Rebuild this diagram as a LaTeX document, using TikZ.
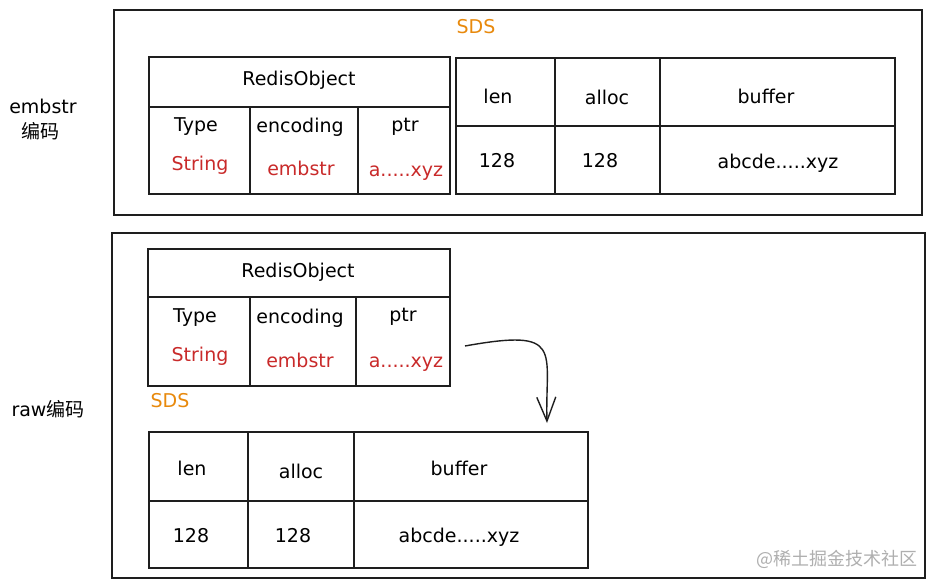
\documentclass[tikz,border=0pt]{standalone}
\usepackage{fontspec}
\setmainfont{DejaVu Sans}
\newfontfamily\cjk{Noto Sans CJK SC}
\usetikzlibrary{arrows.meta}
\definecolor{redtxt}{RGB}{201,42,42}
\definecolor{orangetxt}{RGB}{232,137,12}
\definecolor{linec}{RGB}{30,30,30}
\definecolor{wmark}{RGB}{175,175,175}
\begin{document}
\begin{tikzpicture}[x=1pt,y=-1pt,
  frame/.style={draw=linec, line width=1.4pt},
  tbl/.style={draw=linec, line width=1.6pt},
  lbl/.style={font=\fontsize{19}{22}\selectfont, text=black, inner sep=0},
  val/.style={lbl, text=redtxt},
  sdslbl/.style={lbl, text=orangetxt},
  side/.style={font=\fontsize{19}{22}\selectfont, inner sep=0},
  cjklbl/.style={font=\cjk\fontsize{19}{22}\selectfont, inner sep=0},
  ptrarrow/.style={draw=linec, line width=1.4pt, -{Straight Barb[length=24pt,width=19pt,line width=1.4pt]}}
]
\useasboundingbox (0,0) rectangle (935,588);
\fill[white] (0,0) rectangle (935,588);

% ---------- top (embstr) ----------
\draw[frame] (114,10) rectangle (922,215);
\node[sdslbl] (sds1) at (476,27) {SDS};

\draw[tbl] (149,57) rectangle (450,194);
\draw[tbl] (149,107) -- (450,107);
\draw[tbl] (250,107) -- (250,194);
\draw[tbl] (358,107) -- (358,194);

\node[lbl] (ro1) at (299,80) {RedisObject};
\node[lbl] (type1) at (196,127) {Type};
\node[lbl] (enc1) at (300,127) {encoding};
\node[lbl] (ptr1) at (405,127) {ptr};
\node[val] (str1) at (200,165) {String};
\node[val] (emb1) at (301,168) {embstr};
\node[val] (pv1) at (406,173) {a.....xyz};

\draw[tbl] (456,58) rectangle (895,194);
\draw[tbl] (456,126) -- (895,126);
\draw[tbl] (555,58) -- (555,194);
\draw[tbl] (660,58) -- (660,194);

\node[lbl] (len1) at (498,96) {len};
\node[lbl] (alloc1) at (607,97) {alloc};
\node[lbl] (buf1) at (766,96) {buffer};
\node[lbl] (lenv1) at (497,161) {128};
\node[lbl] (allocv1) at (600,161) {128};
\node[lbl] (bufv1) at (778,163) {abcde.....xyz};

\node[side] (embl) at (43,106) {embstr};
\node[cjklbl] (embl2) at (40,131) {编码};

% ---------- bottom (raw) ----------
\draw[frame] (112,233) rectangle (925,578);

\draw[tbl] (148,249) rectangle (450,386);
\draw[tbl] (148,297) -- (450,297);
\draw[tbl] (250,297) -- (250,386);
\draw[tbl] (356,297) -- (356,386);

\node[lbl] (ro2) at (298,272) {RedisObject};
\node[lbl] (type2) at (195,318) {Type};
\node[lbl] (enc2) at (300,318) {encoding};
\node[lbl] (ptr2) at (403,317) {ptr};
\node[val] (str2) at (200,356) {String};
\node[val] (emb2) at (300,360) {embstr};
\node[val] (pv2) at (406,364) {a.....xyz};

\node[sdslbl] (sds2) at (170,401) {SDS};

\draw[tbl] (149,432) rectangle (588,568);
\draw[tbl] (149,501) -- (588,501);
\draw[tbl] (248,432) -- (248,568);
\draw[tbl] (354,432) -- (354,568);

\node[lbl] (len2) at (192,468) {len};
\node[lbl] (alloc2) at (301,471) {alloc};
\node[lbl] (buf2) at (459,468) {buffer};
\node[lbl] (lenv2) at (191,536) {128};
\node[lbl] (allocv2) at (293,536) {128};
\node[lbl] (bufv2) at (459,537) {abcde.....xyz};

\node[side] (rawl) at (48,409) {raw{\cjk 编码}};

% arrow from ptr to SDS
\coordinate (arrs) at (465,346);
\coordinate (arre) at (547,423);
\draw[ptrarrow] (arrs) .. controls (565,328) and (545,350) .. (arre);

\node[font=\cjk\fontsize{18}{20}\selectfont, text=wmark, inner sep=0] (wm) at (837,559) {@稀土掘金技术社区};
\end{tikzpicture}
\end{document}
